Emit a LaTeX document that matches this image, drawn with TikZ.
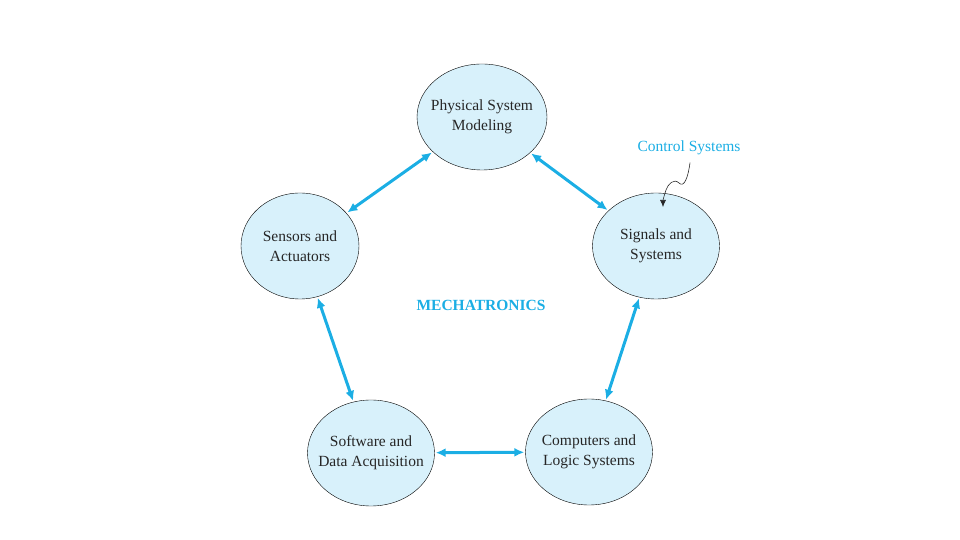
\documentclass[tikz,border=0pt]{standalone}
\usepackage{fontspec}
\setmainfont{Liberation Serif}
\usetikzlibrary{shapes.geometric,arrows.meta}
\definecolor{mechblue}{HTML}{1BAEE4}
\definecolor{mechfill}{HTML}{D8F1FB}
\tikzset{
    field/.style={ellipse, draw=black, thin, fill=mechfill, minimum width=127pt,
        minimum height=106pt, inner xsep=-12pt, inner ysep=0pt, align=center, text=black!85,
        font=\fontsize{15.5}{20}\selectfont},
    link/.style={{Latex[length=10pt,width=9pt]}-{Latex[length=10pt,width=9pt]},
        mechblue, line width=3pt, shorten <=1pt, shorten >=1pt}
}
\begin{document}
\begin{tikzpicture}[x=1pt,y=1pt]
            \useasboundingbox (0,0) rectangle (960,540);
            % Fields
            \node[field, minimum width=130pt] (phys) at (482,423) {Physical System\\Modeling};
            \node[field, minimum width=118pt] (sens) at (300,294) {Sensors and\\Actuators};
            \node[field] (sig) at (656,294) {Signals and\\Systems};
            \node[field] (soft) at (371,87) {Software and\\Data Acquisition};
            \node[field] (comp) at (589,88) {Computers and\\Logic Systems};
            % Title
            \node[mechblue, font=\fontsize{15.5}{20}\selectfont\bfseries] (title) at (481,235) {MECHATRONICS};
            % Links
            \foreach \a/\b in {sens/phys, phys/sig, sig/comp, comp/soft, soft/sens} {
                \draw[link] (\a) -- (\b);
            }
            % Control Systems
            \node[mechblue, font=\fontsize{15.5}{20}\selectfont] (ctrl) at (689,392) {Control Systems};
            \coordinate (ctrltip) at (663,333);
            \draw[-{Latex[length=7pt,width=6pt]}, black!85, semithick] (ctrl.south)++(1,-4)
                .. controls (688,362) and (684,352) .. (679,357)
                .. controls (674,362) and (668,356) .. (666,350)
                .. controls (664,344) and (663,340) .. (ctrltip);
\end{tikzpicture}
\end{document}
